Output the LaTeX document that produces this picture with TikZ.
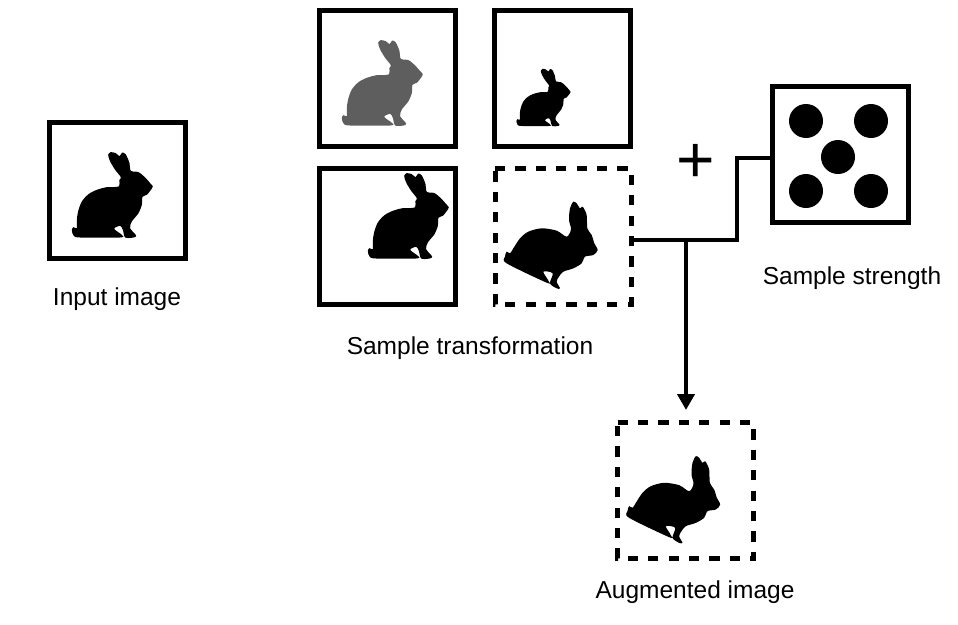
\documentclass[tikz,border=0pt]{standalone}
\usepackage{fontspec}
\setmainfont{Liberation Sans}
\usetikzlibrary{arrows.meta}
\definecolor{rabbitgray}{HTML}{5E5E5E}
\tikzset{
  x=1pt,y=-1pt,
  lw/.style={line width=5pt},
  box/.style={draw,lw,minimum size=136pt,inner sep=0pt,outer sep=0pt,fill=white},
  dbox/.style={minimum size=136pt,inner sep=0pt,outer sep=0pt},
  dashline/.style={lw,dash pattern=on 10.2pt off 10.2pt},
  label/.style={anchor=base,font=\fontsize{24.5pt}{28pt}\selectfont,inner sep=0pt},
  wire/.style={line width=4.2pt},
  pip/.style={circle,fill=black,minimum size=34pt,inner sep=0pt},
  rabbit/.pic={\fill[pic actions,scale=1/3] plot[smooth cycle,tension=0.5] coordinates {
    (-137,118) (-132,110) (-122,113) (-122,88) (-118,62) (-107,33) (-87,11) (-62,-2) (-32,-10) (3,-12) (6,-32) (10,-40)
    (-7,-62) (-22,-87) (-28,-107) (-20,-115) (-5,-112) (6,-103) (14,-114) (25,-108) (36,-82) (40,-59)
    (63,-55) (83,-39) (98,-22) (106,-12) (98,1) (88,13) (75,19) (73,43) (63,68) (43,93) (38,113)
    (56,135) (48,141) (23,141) (16,118) (8,106) (-10,115) (13,133) (8,141) (-112,141) (-132,135)};},
  runner/.pic={\fill[pic actions,scale=1/3] plot[smooth cycle,tension=0.5] coordinates {
    (-174,62) (-169,47) (-159,52) (-149,37) (-129,7) (-104,-13) (-64,-23) (-19,-16) (11,2) (24,-20)
    (18,-48) (21,-83) (31,-103) (41,-98) (51,-83) (59,-88) (71,-63) (73,-23) (86,-3) (94,22) (104,42)
    (91,57) (66,62) (56,82) (31,97) (1,107) (-12,122) (-19,137) (-9,157) (-19,157) (-39,142) (-31,112)
    (-59,107) (-44,134) (-49,140) (-169,82)};}
}
\begin{document}
\begin{tikzpicture}
\useasboundingbox (0,0) rectangle (958,624);
\fill[white] (0,0) rectangle (958,624);

\node[box] (input) at (117.5,190.5) {};
\node[box] (tl) at (387.5,78.5) {};
\node[box] (tr) at (562.5,78.5) {};
\node[box] (bl) at (387.5,236.5) {};
\node[dbox] (br) at (563,236) {};
\node[box] (dice) at (840.5,154.5) {};
\node[dbox] (aug) at (685.5,490.5) {};

\draw[dashline] (br.north west) -- (br.north east) -- (br.south east) -- (br.south west) -- cycle;
\draw[dashline] (aug.north west) -- (aug.north east) -- (aug.south east) -- (aug.south west) -- cycle;

\pic at (input) {rabbit};
\pic[rabbitgray] at (tl) {rabbit};
\pic[scale=0.67] at (547,94.5) {rabbit};
\pic at ([shift={(26,-25)}]bl.center) {rabbit};
\pic at (br) {runner};
\pic at (aug) {runner};

\node[pip] (p1) at (806,121) {};
\node[pip] (p2) at (871,121) {};
\node[pip] (p3) at (838,157) {};
\node[pip] (p4) at (806,191) {};
\node[pip] (p5) at (871,191) {};

\coordinate (from) at ([yshift=-4pt]br.east);
\coordinate (to) at ([yshift=-3.5pt]dice.west);
\coordinate (bend) at (737,240);
\coordinate (tee) at (686,240);
\draw[wire] (from) -- (bend) -- (bend |- to) -- (to);
\draw[wire,-{Triangle[length=16pt,width=17pt]},shorten >=12.5pt] (tee) -- (aug.north -| tee);

\node[anchor=center,inner sep=0pt,font=\fontsize{66pt}{70pt}\selectfont] (plus) at (696,163) {+};
\node[label] (l1) at (117,305) {Input image};
\node[label] (l2) at (470,354) {Sample transformation};
\node[label] (l3) at (852,284) {Sample strength};
\node[label] (l4) at (695,598) {Augmented image};
\end{tikzpicture}
\end{document}
